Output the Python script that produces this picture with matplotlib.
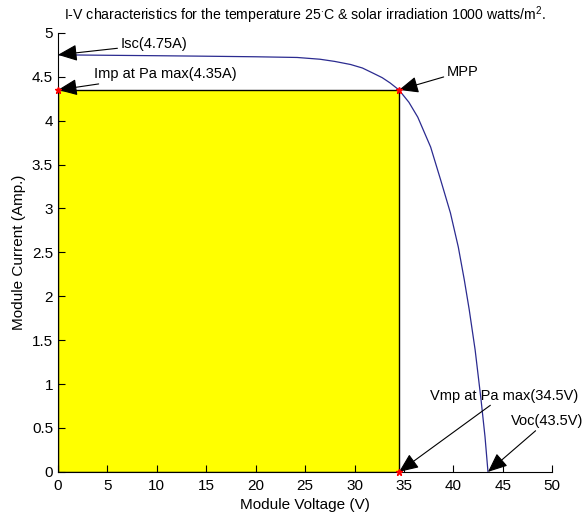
import matplotlib
matplotlib.use('Agg')
import matplotlib.pyplot as plt
from matplotlib.patches import Rectangle

# I-V curve
voltage = [0, 5, 10, 14.4, 20, 24.2, 26.5, 28, 29.6, 30.8, 31.9, 32.8, 33.6, 34.5, 35.5, 36.4, 37.7,
           38.7, 39.7, 40.5, 41.1, 41.6, 42.2, 42.8, 43.2, 43.5]
current = [4.75, 4.745, 4.74, 4.735, 4.728, 4.72, 4.70, 4.675, 4.64, 4.60, 4.54, 4.49, 4.43, 4.35, 4.21,
           4.04, 3.70, 3.33, 2.95, 2.56, 2.19, 1.85, 1.39, 0.82, 0.40, 0.0]

isc = 4.75
imp = 4.35
vmp = 34.5
voc = 43.5

x_ticks = list(range(0, 51, 5))
y_ticks = [0, 0.5, 1, 1.5, 2, 2.5, 3, 3.5, 4, 4.5, 5]
y_labels = ['0', '0.5', '1', '1.5', '2', '2.5', '3', '3.5', '4', '4.5', '5']

plt.rcParams['font.family'] = ['Liberation Sans', 'DejaVu Sans']
plt.rcParams['mathtext.fontset'] = 'custom'
plt.rcParams['mathtext.rm'] = 'Liberation Sans'

fig = plt.figure(figsize=(5.85, 5.22), dpi=100)
ax = fig.add_axes([0.099, 0.096, 0.845, 0.841])

ax.add_patch(Rectangle((0, 0), vmp, imp, facecolor='#ffff00', edgecolor='black', linewidth=1, zorder=1))
ax.plot(voltage, current, color='#2b2b90', linewidth=0.9, zorder=2)
ax.plot([0, vmp, vmp], [imp, imp, 0], linestyle='none', marker='*', color='red', markersize=5, zorder=4,
        clip_on=False)

arrow = dict(arrowstyle='-|>,head_length=0.7,head_width=0.3', color='black', lw=0.8,
             mutation_scale=17, shrinkA=0, shrinkB=0)
fs = 10.5
ax.annotate('Isc(4.75A)', xy=(0, isc), xytext=(6.3, 4.87), arrowprops=arrow, fontsize=fs, va='center',
            annotation_clip=False)
ax.annotate('Imp at Pa max(4.35A)', xy=(0, imp), xytext=(3.6, 4.53), arrowprops=arrow, fontsize=fs,
            va='center', annotation_clip=False)
ax.annotate('MPP', xy=(vmp, imp), xytext=(39.3, 4.56), arrowprops=arrow, fontsize=fs, va='center')
ax.annotate('Vmp at Pa max(34.5V)', xy=(vmp, 0), xytext=(37.6, 0.87), arrowprops=arrow, fontsize=fs,
            va='center', annotation_clip=False)
ax.annotate('Voc(43.5V)', xy=(voc, 0), xytext=(45.8, 0.58), arrowprops=arrow, fontsize=fs, va='center',
            annotation_clip=False)

ax.set_xlim(0, 50)
ax.set_ylim(0, 5)
ax.set_xticks(x_ticks)
ax.set_yticks(y_ticks)
ax.set_yticklabels(y_labels)
ax.tick_params(direction='in', labelsize=11, length=5, width=0.8)
ax.tick_params(axis='x', pad=5)
ax.spines['top'].set_visible(False)
ax.spines['right'].set_visible(False)

ax.set_xlabel('Module Voltage (V)', fontsize=11)
ax.set_ylabel('Module Current (Amp.)', fontsize=11)
ax.set_title('I-V characteristics for the temperature 25$^{\\cdot}$C & solar irradiation 1000 watts/m$^2$.',
             fontsize=10.2, pad=9)

fig.savefig('out.png', dpi=100)
